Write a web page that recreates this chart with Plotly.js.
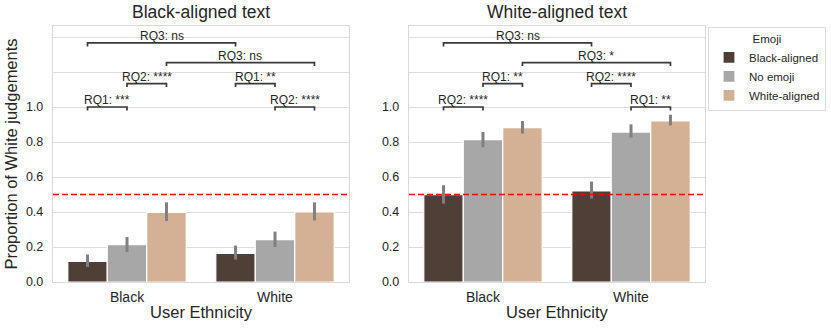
<!DOCTYPE html>
<html>
<head>
<meta charset="utf-8">
<script src="https://cdn.plot.ly/plotly-3.0.1.min.js"></script>
<style>html,body{margin:0;padding:0;background:#fff;}#chart{width:831px;height:331px;}</style>
</head>
<body>
<div id="chart"></div>
<script>
// ---- data ----
const userEthnicity = ["Black", "White"];
const emojiGroups = ["Black-aligned", "No emoji", "White-aligned"];
const panels = ["Black-aligned text", "White-aligned text"];

// mean proportion of White judgements [emoji][ethnicity]
const blackText_mean = [[0.118, 0.164], [0.213, 0.242], [0.398, 0.400]];
const blackText_ciLow = [[0.086, 0.128], [0.171, 0.200], [0.349, 0.352]];
const blackText_ciHigh = [[0.157, 0.208], [0.257, 0.288], [0.455, 0.455]];

const whiteText_mean = [[0.499, 0.520], [0.814, 0.857], [0.882, 0.920]];
const whiteText_ciLow = [[0.448, 0.477], [0.771, 0.825], [0.848, 0.895]];
const whiteText_ciHigh = [[0.553, 0.574], [0.857, 0.901], [0.920, 0.956]];

const chanceLevel = 0.5;

// significance brackets: [ethnicityA, emojiA, ethnicityB, emojiB, level, label]
const blackText_brackets = [
  [0, 0, 0, 1, 1.0, "RQ1: ***"],
  [0, 1, 0, 2, 1.134, "RQ2: ****"],
  [0, 0, 1, 0, 1.366, "RQ3: ns"],
  [0, 2, 1, 2, 1.254, "RQ3: ns"],
  [1, 0, 1, 1, 1.134, "RQ1: **"],
  [1, 1, 1, 2, 1.0, "RQ2: ****"]
];
const whiteText_brackets = [
  [0, 0, 0, 1, 1.0, "RQ2: ****"],
  [0, 1, 0, 2, 1.134, "RQ1: **"],
  [0, 0, 1, 0, 1.366, "RQ3: ns"],
  [0, 2, 1, 2, 1.254, "RQ3: *"],
  [1, 0, 1, 1, 1.134, "RQ2: ****"],
  [1, 1, 1, 2, 1.0, "RQ1: **"]
];

// ---- styling ----
const colors = ["#4f3f37", "#a7a7a7", "#d4b194"];
const textColor = "#262626";
const barOffset = 0.8 / 3;

const traces = [];
const panelData = [
  [blackText_mean, blackText_ciLow, blackText_ciHigh],
  [whiteText_mean, whiteText_ciLow, whiteText_ciHigh]
];
panelData.forEach((pd, p) => {
  const [mean, lo, hi] = pd;
  emojiGroups.forEach((g, j) => {
    traces.push({
      type: "bar",
      name: g,
      x: userEthnicity,
      y: mean[j],
      xaxis: p === 0 ? "x" : "x2",
      yaxis: p === 0 ? "y" : "y2",
      legendgroup: g,
      showlegend: p === 1,
      marker: {color: colors[j], line: {color: "#ffffff", width: 1.2}},
      error_y: {
        type: "data", symmetric: false,
        array: mean[j].map((v, i) => hi[j][i] - v),
        arrayminus: mean[j].map((v, i) => v - lo[j][i]),
        color: "#808080", thickness: 3, width: 0
      },
      hoverinfo: "skip"
    });
  });
});

const shapes = [];
const annotations = [];
const tickDrop = 0.02;
[blackText_brackets, whiteText_brackets].forEach((br, p) => {
  const xr = p === 0 ? "x" : "x2";
  const yr = p === 0 ? "y" : "y2";
  // chance line
  shapes.push({type: "line", xref: xr + " domain", yref: yr, x0: 0, x1: 1,
    y0: chanceLevel, y1: chanceLevel, line: {color: "#ff0000", width: 1.6, dash: "6px,3px"}});
  br.forEach(b => {
    const xa = b[0] + (b[1] - 1) * barOffset;
    const xb = b[2] + (b[3] - 1) * barOffset;
    const h = b[4];
    shapes.push({type: "path", xref: xr, yref: yr,
      path: `M ${xa} ${h - tickDrop} L ${xa} ${h} L ${xb} ${h} L ${xb} ${h - tickDrop}`,
      line: {color: "#3a3a3a", width: 1.7}});
    annotations.push({xref: xr, yref: yr, x: (xa + xb) / 2, y: h, yanchor: "bottom", xanchor: "center",
      text: b[5], showarrow: false, yshift: -2, font: {size: 12, color: textColor}});
  });
});
// subplot titles
const titleX = [0.227, 0.773];
panels.forEach((t, p) => {
  annotations.push({xref: "paper", yref: "paper", x: titleX[p], y: 1, yanchor: "bottom", xanchor: "center",
    yshift: 2, text: t, showarrow: false, font: {size: 17.5, color: textColor}});
});

const axisCommon = {
  showline: true, mirror: true, linecolor: "#d9d9d9", linewidth: 1.2,
  ticks: "outside", tickcolor: "rgba(0,0,0,0)", color: textColor, zeroline: false
};
const xCommon = Object.assign({}, axisCommon, {
  type: "category", range: [-0.5, 1.5], showgrid: false, ticklen: 2,
  tickfont: {size: 14, color: textColor},
  title: {text: "User Ethnicity", font: {size: 16.5, color: textColor}, standoff: 2}
});
const yTickVals = [0, 0.2, 0.4, 0.6, 0.8, 1.0, 1.2, 1.4];
const yTickText = ["0.0", "0.2", "0.4", "0.6", "0.8", "1.0", "", ""];
const yCommon = Object.assign({}, axisCommon, {
  range: [0, 1.463], showgrid: true, gridcolor: "#dedede", gridwidth: 1,
  tickvals: yTickVals, ticktext: yTickText, tickfont: {size: 12.5, color: textColor},
  ticklen: 6
});

const layout = {
  width: 831, height: 331,
  margin: {l: 53, r: 126, t: 26, b: 49, autoexpand: false},
  paper_bgcolor: "#ffffff", plot_bgcolor: "#ffffff",
  font: {family: "Liberation Sans, Arial, sans-serif", color: textColor},
  barmode: "group", bargap: 0.2, bargroupgap: 0,
  xaxis: Object.assign({}, xCommon, {domain: [0, 0.454], anchor: "y"}),
  xaxis2: Object.assign({}, xCommon, {domain: [0.546, 1], anchor: "y2"}),
  yaxis: Object.assign({}, yCommon, {domain: [0, 1], anchor: "x",
    title: {text: "Proportion of White judgements", font: {size: 16.5, color: textColor}, standoff: 4}}),
  yaxis2: Object.assign({}, yCommon, {domain: [0, 1], anchor: "x2"}),
  shapes: shapes,
  annotations: annotations,
  showlegend: true,
  legend: {
    xref: "container", yref: "container",
    x: 708 / 831, y: (331 - 27) / 331, xanchor: "left", yanchor: "top",
    bgcolor: "#ffffff", bordercolor: "#dcdcdc", borderwidth: 1,
    font: {size: 11.5, color: textColor},
    title: {text: "Emoji", font: {size: 11.5, color: textColor}, side: "top center"},
    tracegroupgap: 0, itemwidth: 30
  }
};

Plotly.newPlot("chart", traces, layout, {displayModeBar: false, staticPlot: true});
</script>
</body>
</html>
